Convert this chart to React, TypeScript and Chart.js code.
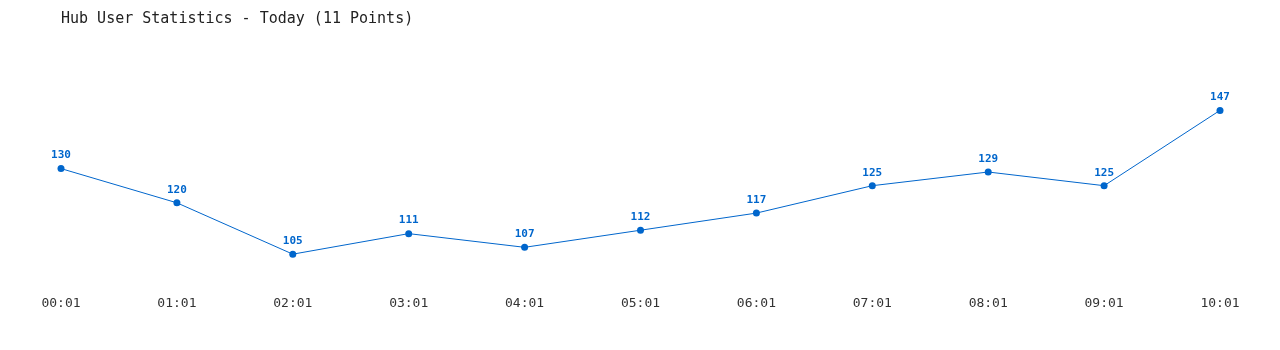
import React, { useEffect, useRef } from "react";
import { Chart, registerables } from "chart.js";

Chart.register(...registerables);

const titleText = "Hub User Statistics - Today (11 Points)";
const timeLabels = ["00:01", "01:01", "02:01", "03:01", "04:01", "05:01", "06:01", "07:01", "08:01", "09:01", "10:01"];
const userCounts = [130, 120, 105, 111, 107, 112, 117, 125, 129, 125, 147];

const LINE_COLOR = "#0066cc";
const FONT = "'DejaVu Sans Mono', monospace";

const valueLabelPlugin = {
  id: "valueLabels",
  afterDatasetsDraw(chart: any) {
    const ctx = chart.ctx;
    const meta = chart.getDatasetMeta(0);
    const data = chart.data.datasets[0].data;
    ctx.save();
    ctx.font = `bold 11px ${FONT}`;
    ctx.fillStyle = LINE_COLOR;
    ctx.textAlign = "center";
    ctx.textBaseline = "middle";
    meta.data.forEach((pt: any, i: number) => {
      ctx.fillText(String(data[i]), pt.x, pt.y - 13);
    });
    ctx.restore();
  },
};

export default function App() {
  const ref = useRef<HTMLCanvasElement>(null);
  useEffect(() => {
    if (!ref.current) return;
    const chart = new Chart(ref.current, {
      type: "line",
      data: {
        labels: timeLabels,
        datasets: [
          {
            data: userCounts,
            borderColor: LINE_COLOR,
            backgroundColor: LINE_COLOR,
            borderWidth: 1,
            pointRadius: 3.5,
            pointBackgroundColor: LINE_COLOR,
            pointBorderWidth: 0,
            tension: 0,
            fill: false,
          },
        ],
      },
      options: {
        responsive: true,
        maintainAspectRatio: false,
        animation: false,
        layout: { padding: { left: 53, right: 52, top: 0, bottom: 24 } },
        plugins: {
          legend: { display: false },
          tooltip: { enabled: false },
          title: {
            display: true,
            text: titleText,
            align: "start",
            color: "#222",
            font: { family: FONT, size: 15, weight: "normal" },
            padding: { top: 2, bottom: 55 },
          },
        },
        scales: {
          x: {
            offset: false,
            grid: { display: false, drawTicks: false },
            border: { display: false },
            ticks: { color: "#333", font: { family: FONT, size: 13 }, padding: 7, maxRotation: 0 },
          },
          y: { display: false, min: 95, max: 155 },
        },
      },
      plugins: [valueLabelPlugin],
    });
    return () => chart.destroy();
  }, []);
  return (
    <div style={{ width: "100%", height: 334, background: "#fff" }}>
      <canvas ref={ref} />
    </div>
  );
}
